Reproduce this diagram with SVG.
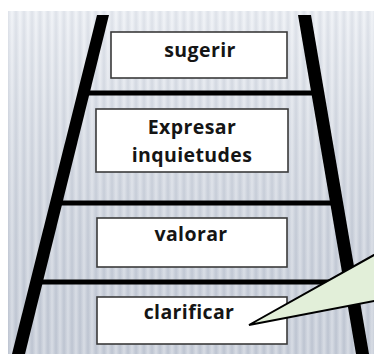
<svg xmlns="http://www.w3.org/2000/svg" width="374" height="354" viewBox="0 0 374 354">
<defs>
<linearGradient id="stripe" x1="0" y1="0" x2="1" y2="0">
<stop offset="0" stop-color="#c8cfdb"/>
<stop offset="0.5" stop-color="#e9edf3"/>
<stop offset="1" stop-color="#c8cfdb"/>
</linearGradient>
<pattern id="stripes" x="8" y="0" width="8" height="354" patternUnits="userSpaceOnUse">
<rect width="8" height="354" fill="url(#stripe)"/>
</pattern>
<linearGradient id="shade" x1="0" y1="0" x2="0" y2="1">
<stop offset="0" stop-color="#ffffff" stop-opacity="0.4"/>
<stop offset="1" stop-color="#8f97a8" stop-opacity="0.2"/>
</linearGradient>
<style>
.rung{fill:#000}
.rail{fill:#000}
.box{fill:#fff;stroke:#3a3a3a;stroke-width:1.6}
.lbl{font-family:"Open Sans","Liberation Sans",sans-serif;font-weight:bold;font-size:19.5px;letter-spacing:0.4px;fill:#151515;text-anchor:middle}
.callout{fill:#e2efd9;stroke:#000;stroke-width:2;stroke-linejoin:miter}
</style>
</defs>
<rect width="374" height="354" fill="#fff"/>
<rect x="8" y="11" width="366" height="343" fill="url(#stripes)"/>
<rect x="8" y="11" width="366" height="343" fill="url(#shade)"/>
<g id="connectors">
<rect class="rung" x="84" y="90.5" width="232" height="5"/>
<rect class="rung" x="60" y="200.5" width="272" height="5"/>
<rect class="rung" x="38" y="279.5" width="308" height="5"/>
<polygon class="rail" points="97,15 109,15 25,354 12,354"/>
<polygon class="rail" points="298,15 311,15 369,354 356,354"/>
</g>
<g id="node-sugerir">
<rect class="box" x="111" y="32" width="176" height="46"/>
<text class="lbl" x="200" y="57">sugerir</text>
</g>
<g id="node-expresar">
<rect class="box" x="96" y="109" width="192" height="63"/>
<text class="lbl" x="192" y="134">Expresar</text>
<text class="lbl" x="192" y="162">inquietudes</text>
</g>
<g id="node-valorar">
<rect class="box" x="97" y="218" width="190" height="49"/>
<text class="lbl" x="191" y="241">valorar</text>
</g>
<g id="node-clarificar">
<rect class="box" x="97" y="297" width="190" height="47"/>
<text class="lbl" x="189" y="319">clarificar</text>
</g>
<g id="callout">
<polygon class="callout" points="249,325 382,250.5 382,299.5"/>
</g>
</svg>
